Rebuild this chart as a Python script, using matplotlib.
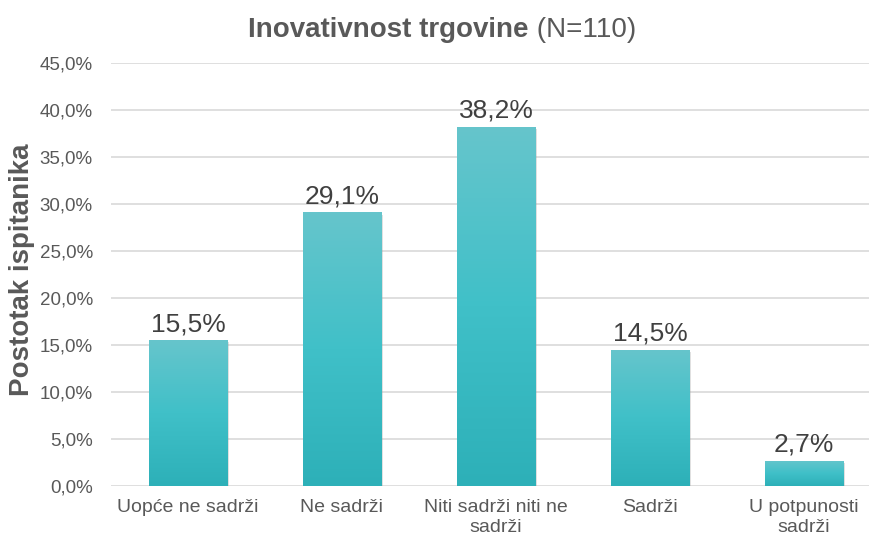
import matplotlib
matplotlib.use("Agg")
import matplotlib.pyplot as plt
import numpy as np
from matplotlib.colors import LinearSegmentedColormap
import matplotlib.patheffects as pe

categories = ["Uopće ne sadrži", "Ne sadrži", "Niti sadrži niti ne\nsadrži", "Sadrži", "U potpunosti\nsadrži"]
values = [15.5, 29.1, 38.2, 14.5, 2.7]
value_labels = ["15,5%", "29,1%", "38,2%", "14,5%", "2,7%"]
yticks = [0, 5, 10, 15, 20, 25, 30, 35, 40, 45]
ytick_labels = ["0,0%", "5,0%", "10,0%", "15,0%", "20,0%", "25,0%", "30,0%", "35,0%", "40,0%", "45,0%"]

plt.rcParams['font.family'] = ['Liberation Sans', 'DejaVu Sans']

fig = plt.figure(figsize=(8.7, 5.36), dpi=100)
ax = fig.add_axes([111/870, 50/536, 770/870, 423/536])

x = np.arange(len(categories))
bars = ax.bar(x, values, width=0.51, color='none', edgecolor='none', zorder=3,
              path_effects=[pe.SimplePatchShadow(offset=(1.5, -1.5), shadow_rgbFace='#9a9a9a', alpha=0.3), pe.Normal()])

cmap = LinearSegmentedColormap.from_list('g', ['#2DB0B8', '#40C0C8', '#66C5CC'])
grad = np.linspace(0, 1, 256).reshape(-1, 1)
for b in bars:
    x0, y0 = b.get_x(), b.get_y()
    w, h = b.get_width(), b.get_height()
    im = ax.imshow(grad, cmap=cmap, origin='lower', aspect='auto',
                   extent=[x0, x0 + w, y0, y0 + h], zorder=4)
    im.set_clip_path(b)

for xi, v, lab in zip(x, values, value_labels):
    ax.text(xi, v + 0.45, lab, ha='center', va='bottom', fontsize=19, color='#404040', zorder=5)

ax.set_xlim(-0.5, len(categories) - 0.5)
ax.set_ylim(0, 45)
ax.set_yticks(yticks)
ax.set_yticklabels(ytick_labels, fontsize=13.5, color='#595959')
ax.set_xticks(x)
ax.set_xticklabels(categories, fontsize=14, color='#595959', linespacing=1.3)
ax.tick_params(axis='both', length=0)
ax.tick_params(axis='y', pad=13)
ax.tick_params(axis='x', pad=9)
ax.grid(axis='y', color='#D9D9D9', linewidth=1.2, zorder=0)
ax.set_axisbelow(True)
for s in ax.spines.values():
    s.set_visible(False)

fig.text(22/870, 1 - 270/536, "Postotak ispitanika", rotation=90, ha='center', va='center',
         fontsize=20, fontweight='bold', color='#595959')

t1 = fig.text(0, 0, "Inovativnost trgovine", fontsize=20, fontweight='bold', color='#595959')
t2 = fig.text(0, 0, " (N=110)", fontsize=20, color='#595959')
fig.canvas.draw()
r = fig.canvas.get_renderer()
w1 = t1.get_window_extent(r).width
w2 = t2.get_window_extent(r).width
cx = 442
ypix = 536 - 30
start = cx - (w1 + w2) / 2
t1.set_position((start / 870, ypix / 536))
t1.set_va('center')
t2.set_position(((start + w1) / 870, ypix / 536))
t2.set_va('center')

fig.savefig("out.png", dpi=100)
